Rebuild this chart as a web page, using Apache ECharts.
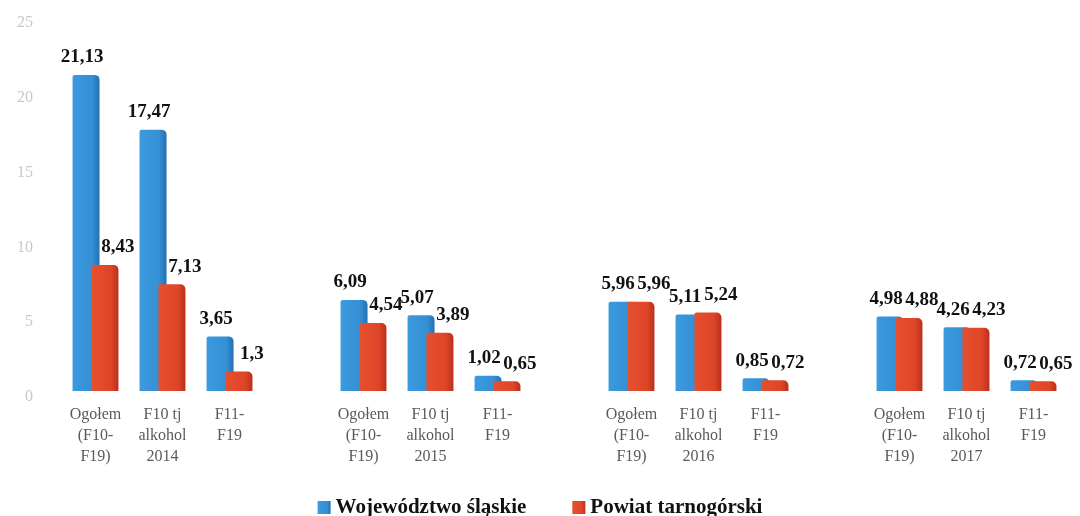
<!DOCTYPE html>
<html>
<head>
<meta charset="utf-8">
<script src="https://cdn.jsdelivr.net/npm/echarts@6/dist/echarts.min.js"></script>
<style>html,body{margin:0;padding:0;background:#fff;}#c{width:1080px;height:516px;}</style>
</head>
<body>
<div id="c"></div>
<script>
const groupLabels = ['Ogołem\n(F10-\nF19)', 'F10 tj\nalkohol\n', 'F11-\nF19'];
const years = ['2014', '2015', '2016', '2017'];
const seriesNames = ['Województwo śląskie', 'Powiat tarnogórski'];
const slaskie2014 = [21.13, 17.47, 3.65];
const slaskie2015 = [6.09, 5.07, 1.02];
const slaskie2016 = [5.96, 5.11, 0.85];
const slaskie2017 = [4.98, 4.26, 0.72];
const tarnog2014 = [8.43, 7.13, 1.3];
const tarnog2015 = [4.54, 3.89, 0.65];
const tarnog2016 = [5.96, 5.24, 0.72];
const tarnog2017 = [4.88, 4.23, 0.65];
const yTicks = [0, 5, 10, 15, 20, 25];

const blueGroups = [slaskie2014, slaskie2015, slaskie2016, slaskie2017];
const redGroups = [tarnog2014, tarnog2015, tarnog2016, tarnog2017];
const categories = [], blue = [], red = [];
years.forEach((y, gi) => {
  if (gi > 0) { categories.push(''); blue.push('-'); red.push('-'); }
  groupLabels.forEach((lab, i) => {
    categories.push(i === 1 ? lab + y : lab);
    blue.push(blueGroups[gi][i]);
    red.push(redGroups[gi][i]);
  });
});

const fmt = p => String(p.value).replace('.', ',');
const serif = '"Liberation Serif", "DejaVu Serif", serif';
const grad = (a, b, c) => new echarts.graphic.LinearGradient(0, 0, 1, 0, [
  {offset: 0, color: a}, {offset: 0.72, color: b}, {offset: 1, color: c}
]);

const chart = echarts.init(document.getElementById('c'), null, {renderer: 'canvas'});
chart.setOption({
  animation: false,
  backgroundColor: '#fff',
  grid: {left: 62, right: 13, top: 17, bottom: 125, containLabel: false},
  legend: {
    bottom: -2, left: 'center', icon: 'rect', itemWidth: 13, itemHeight: 13, itemGap: 46, padding: 0,
    textStyle: {fontFamily: serif, fontWeight: 'bold', fontSize: 21, color: '#111'},
    data: seriesNames
  },
  xAxis: {
    type: 'category', data: categories,
    axisLine: {show: false}, axisTick: {show: false},
    axisLabel: {interval: 0, margin: 13, color: '#5a5a5a', fontFamily: serif, fontSize: 16, lineHeight: 21}
  },
  yAxis: {
    type: 'value', min: yTicks[0], max: yTicks[yTicks.length - 1], interval: 5,
    splitLine: {show: false}, axisLine: {show: false}, axisTick: {show: false},
    axisLabel: {
      margin: 29, formatter: v => '{t|' + v + '}',
      rich: {t: {color: '#c8c8c8', fontFamily: serif, fontSize: 16, padding: [12, 0, 0, 0]}}
    }
  },
  series: [
    {
      name: seriesNames[0], type: 'bar', data: blue, barWidth: 27, barGap: '-30%',
      itemStyle: {color: grad('#3c9ade', '#3590d6', '#2470b2'), borderRadius: [2, 5, 0, 0]},
      label: {show: true, position: 'top', distance: 8, offset: [-4, 0], formatter: fmt,
        fontFamily: serif, fontWeight: 'bold', fontSize: 19, color: '#111'}
    },
    {
      name: seriesNames[1], type: 'bar', data: red, barWidth: 27,
      itemStyle: {color: grad('#e5502f', '#df4527', '#b8311c'), borderRadius: [2, 5, 0, 0]},
      label: {show: true, position: 'top', distance: 8, offset: [13, 0], formatter: fmt,
        fontFamily: serif, fontWeight: 'bold', fontSize: 19, color: '#111'}
    }
  ]
});
</script>
</body>
</html>
